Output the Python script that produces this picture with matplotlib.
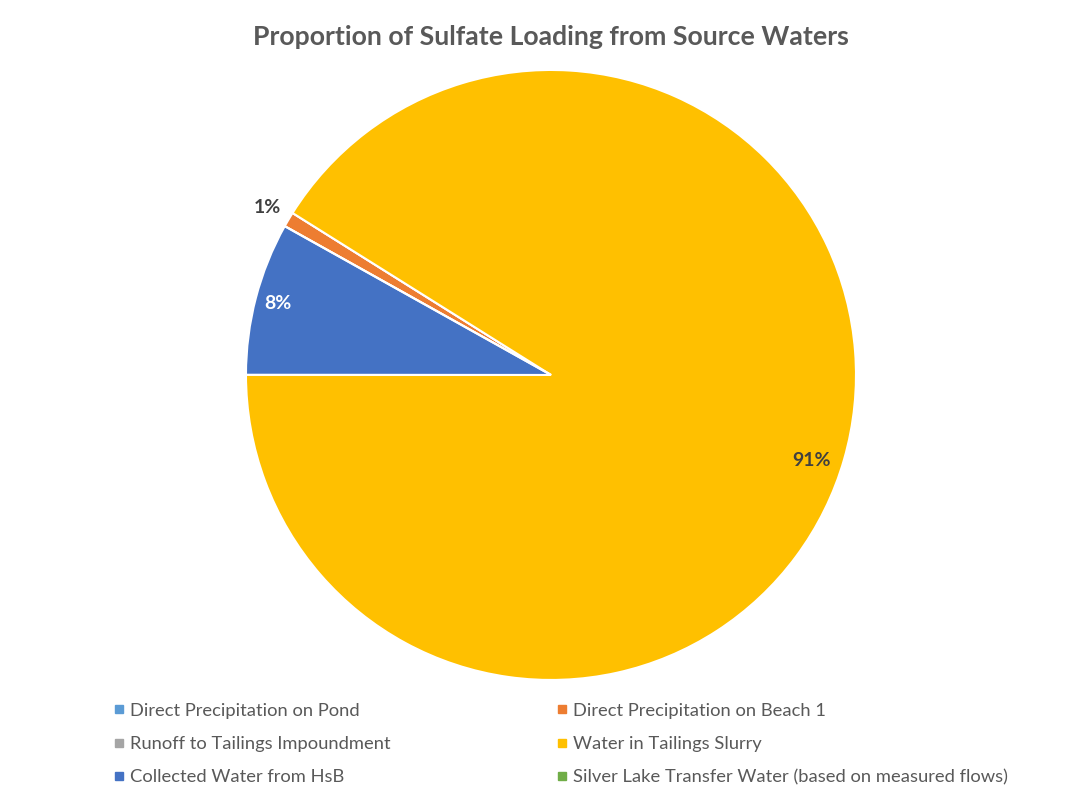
import matplotlib.pyplot as plt
from matplotlib.lines import Line2D
import numpy as np

# valores (porcentaje de carga de sulfato)
fuentes = ['Direct Precipitation on Pond', 'Direct Precipitation on Beach 1',
           'Runoff to Tailings Impoundment', 'Water in Tailings Slurry',
           'Collected Water from HsB', 'Silver Lake Transfer Water (based on measured flows)']
valores = [0.0, 0.8, 0.0, 91.1, 8.1, 0.0]
colores = ['#5B9BD5', '#ED7D31', '#A5A5A5', '#FFC000', '#4472C4', '#70AD47']
etiquetas = ['', '1%', '', '91%', '8%', '']

plt.rcParams['font.family'] = ['Lato', 'DejaVu Sans']
gris = '#595959'

fig = plt.figure(figsize=(10.86, 7.95), dpi=100)
ax = fig.add_axes([0.2265, 0.1447, 0.5617, 0.7673])

wedges, _ = ax.pie(valores, colors=colores, startangle=150.8, counterclock=False,
                   wedgeprops=dict(edgecolor='white', linewidth=1.5))
ax.set_xlim(-1, 1)
ax.set_ylim(-1, 1)
ax.set_aspect('equal')

# etiquetas de porcentaje: distancia, giro y color segun la porcion
dist = {1: 1.08, 3: 0.90, 4: 0.925}
giro = {1: 0, 3: -2, 4: 0}
color_txt = {1: '#404040', 3: '#404040', 4: 'white'}
for i, w in enumerate(wedges):
    if etiquetas[i] == '':
        continue
    ang = np.deg2rad((w.theta1 + w.theta2) / 2 + giro[i])
    r = dist[i]
    ax.text(r * np.cos(ang), r * np.sin(ang), etiquetas[i], ha='center', va='center',
            fontsize=14, fontweight='bold', color=color_txt[i])

fig.text(0.507, 0.953, 'Proportion of Sulfate Loading from Source Waters', ha='center', va='center',
         fontsize=19.2, fontweight='bold', color=gris)

# leyenda en dos columnas
handles = [Line2D([], [], marker='s', linestyle='', color=c, markersize=6) for c in colores]
for col, x0 in [(0, 0.089), (1, 0.497)]:
    idx = [col, col + 2, col + 4]
    leg = fig.legend([handles[i] for i in idx], [fuentes[i] for i in idx], loc='upper left',
                     bbox_to_anchor=(x0, 0.137), frameon=False, fontsize=13.2,
                     handlelength=0.6, handletextpad=0.3, labelspacing=0.95, labelcolor=gris)

plt.savefig('out.png')
